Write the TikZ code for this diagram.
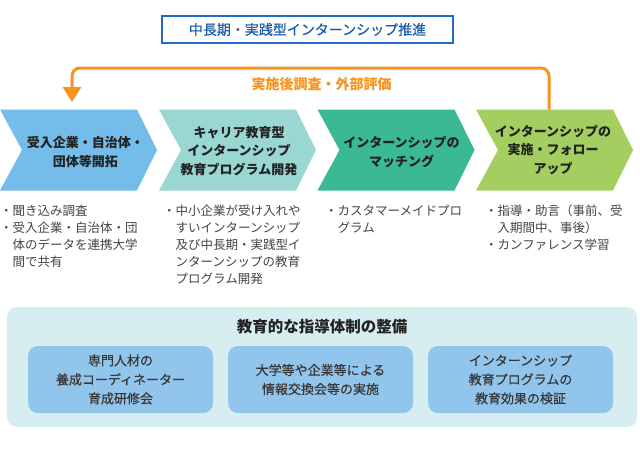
\documentclass[tikz,border=0pt]{standalone}
\usepackage{fontspec}
\setmainfont{Noto Sans CJK JP}
\newfontfamily\medfont[FakeBold=0.5]{Noto Sans CJK JP}
\usetikzlibrary{arrows.meta}
\definecolor{ttlblue}{HTML}{1E6CC4}
\definecolor{ttltext}{HTML}{1A5CA8}
\definecolor{orng}{HTML}{F7931E}
\definecolor{chA}{HTML}{74BCEA}
\definecolor{chB}{HTML}{9AD6D2}
\definecolor{chC}{HTML}{3BB995}
\definecolor{chD}{HTML}{A5CE61}
\definecolor{panelc}{HTML}{D7EEF0}
\definecolor{subc}{HTML}{92C5EC}
\definecolor{darktxt}{HTML}{222222}
\definecolor{bultxt}{HTML}{444444}
\begin{document}
\begin{tikzpicture}[x=1pt,y=-1pt,
  chevtxt/.style={align=center,inner sep=0pt,text=darktxt,font=\fontsize{13}{18.5}\selectfont\bfseries},
  bul/.style={anchor=base west,inner sep=0pt,text=bultxt,font=\fontsize{12.5}{17}\selectfont},
  subbox/.style={fill=subc,rounded corners=10pt,minimum width=185pt,minimum height=67pt,align=center,inner sep=0pt,text=darktxt!90,font=\fontsize{13}{19}\selectfont\medfont},
  fb/.style={draw=orng,line width=3pt,rounded corners=8pt,-{Triangle[width=18pt,length=15pt]}}
]
\useasboundingbox (0,0) rectangle (640,464);
\fill[white] (0,0) rectangle (640,464);

% title box
\node[draw=ttlblue,line width=1.2pt,minimum width=291pt,minimum height=27pt,inner sep=0pt,text=ttltext,font=\fontsize{14}{16}\selectfont\medfont] (title) at (307.5,29.5) {中長期・実践型インターンシップ推進};

% chevrons
\fill[chA] (0,109.5) -- (137,109.5) -- (157,150) -- (137,190.5) -- (0,190.5) -- (22,150) -- cycle;
\fill[chB] (159,109.5) -- (296,109.5) -- (316,150) -- (296,190.5) -- (159,190.5) -- (181,150) -- cycle;
\fill[chC] (317.5,109.5) -- (454.5,109.5) -- (474.5,150) -- (454.5,190.5) -- (317.5,190.5) -- (339.5,150) -- cycle;
\fill[chD] (476,109.5) -- (613,109.5) -- (633,150) -- (613,190.5) -- (476,190.5) -- (498,150) -- cycle;

\node[chevtxt] (c1) at (85.5,152) {受入企業・自治体・\\団体等開拓};
\node[chevtxt] (c2) at (239,151) {キャリア教育型\\インターンシップ\\教育プログラム開発};
\node[chevtxt] (c3) at (401.5,152) {インターンシップの\\マッチング};
\node[chevtxt] (c4) at (553,150) {インターンシップの\\実施・フォロー\\アップ};

% feedback arrow
\coordinate (fbstart) at (549,109.5);
\coordinate (fbcorner) at (72,68);
\coordinate (fbend) at (72,102);
\draw[fb] (fbstart) |- (fbcorner) -- (fbend);
\node[text=orng,inner sep=0pt,font=\fontsize{14}{16}\selectfont\bfseries] (fblabel) at (321.5,84) {実施後調査・外部評価};

% bullet texts
\node[bul] (b1) at (0,215.5) {\begin{tabular}[t]{@{}l@{}}・聞き込み調査\\・受入企業・自治体・団\\\hspace*{1em}体のデータを連携大学\\\hspace*{1em}間で共有\end{tabular}};
\node[bul] (b2) at (163,215.5) {\begin{tabular}[t]{@{}l@{}}・中小企業が受け入れや\\\hspace*{1em}すいインターンシップ\\\hspace*{1em}及び中長期・実践型イ\\\hspace*{1em}ンターンシップの教育\\\hspace*{1em}プログラム開発\end{tabular}};
\node[bul] (b3) at (325,215.5) {\begin{tabular}[t]{@{}l@{}}・カスタマーメイドプロ\\\hspace*{1em}グラム\end{tabular}};
\node[bul] (b4) at (485,215.5) {\begin{tabular}[t]{@{}l@{}}・指導・助言（事前、受\\\hspace*{1em}入期間中、事後）\\・カンファレンス学習\end{tabular}};

% bottom panel
\node[fill=panelc,rounded corners=10pt,minimum width=630pt,minimum height=120pt,inner sep=0pt] (panel) at (322,367) {};
\node[inner sep=0pt,text=darktxt,font=\fontsize{15.5}{18}\selectfont\bfseries] (ptitle) at (322,327) {教育的な指導体制の整備};
\node[subbox] (s1) at (120.5,379.5) {専門人材の\\養成コーディネーター\\育成研修会};
\node[subbox] (s2) at (320.5,379.5) {大学等や企業等による\\情報交換会等の実施};
\node[subbox] (s3) at (520.5,379.5) {インターンシップ\\教育プログラムの\\教育効果の検証};
\end{tikzpicture}
\end{document}
